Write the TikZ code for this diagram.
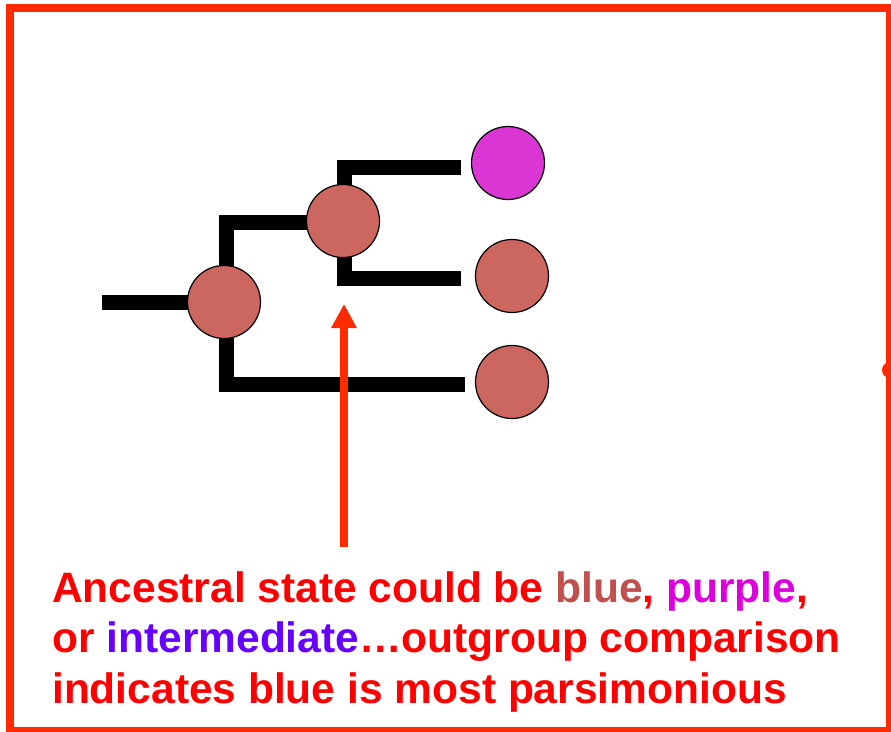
\documentclass[tikz,border=0pt]{standalone}
\usepackage{fontspec}
\setmainfont{Liberation Sans}
\usetikzlibrary{arrows.meta}
\definecolor{framered}{HTML}{FF2A00}
\definecolor{textred}{HTML}{FF0000}
\definecolor{brownred}{HTML}{C0504D}
\definecolor{magentaword}{HTML}{DD00DD}
\definecolor{violetword}{HTML}{6600FF}
\definecolor{statefill}{HTML}{CC6760}
\definecolor{purplefill}{HTML}{D936D4}
\begin{document}
\begin{tikzpicture}[x=1pt, y=-1pt,
  state/.style = {shape=circle, draw, line width=1.2pt, inner sep=0pt,
    minimum size=73pt, fill=statefill},
  branch/.style = {line width=15pt, line cap=butt, line join=miter}
  ]
  \useasboundingbox (0,0) rectangle (891,731);
  \begin{scope}
    \clip (0,0) rectangle (891,731);
    \draw[framered, line width=8pt] (10,8) rectangle (890,731);
    \fill[framered] (890,370) circle (8);
  \end{scope}
  % tree
  \coordinate (stem) at (102,302);
  \coordinate (e1) at (461,167.5);
  \coordinate (e2) at (461,278.5);
  \coordinate (e3) at (465,384.5);
  \path (226,302) coordinate (c1) (344,222.5) coordinate (c2);
  \draw[branch] (stem) -- (c1);
  \draw[branch] (e3) -| (c1) |- (c2);
  \draw[branch] (e1) -| (c2) |- (e2);
  \node[state] (n1) at (224,302) {};
  \node[state] (n2) at (343,221) {};
  \node[state, fill=purplefill] (t1) at (508,163) {};
  \node[state] (t2) at (512,276) {};
  \node[state] (t3) at (512,382) {};
  % arrow
  \coordinate (foot) at (344,547);
  \coordinate (tip) at (344,304);
  \draw[framered, line width=8pt, -{Triangle[length=24pt, width=24pt]}] (foot) -- (tip);
  % caption
  \node[anchor=base west, align=left, inner sep=0pt, text=textred,
    font=\bfseries\fontsize{42.5}{50.5}\selectfont] (caption) at (52,703)
    {Ancestral state could be \textcolor{brownred}{blue}, \textcolor{magentaword}{purple},\\
     or \textcolor{violetword}{intermediate}\ldots outgroup comparison\\
     indicates blue is most parsimonious};
\end{tikzpicture}
\end{document}
